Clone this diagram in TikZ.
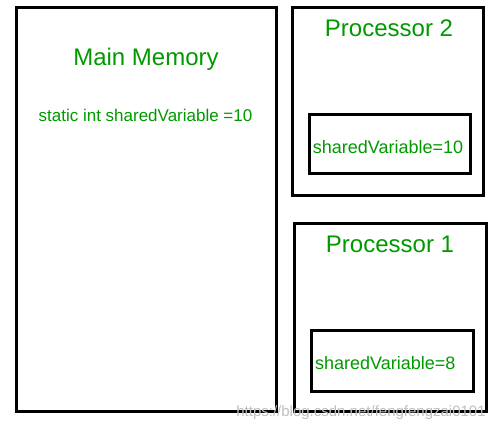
\documentclass[tikz,border=0pt]{standalone}
\usepackage{fontspec}
\setmainfont{Liberation Sans}
\usetikzlibrary{positioning}
\definecolor{memgreen}{RGB}{0,153,0}

\begin{document}
\begin{tikzpicture}[x=1pt,y=-1pt,
  box/.style={draw,line width=3pt,inner sep=0pt},
  title/.style={text=memgreen,inner sep=0pt,anchor=base,font=\fontsize{24}{28}\selectfont},
  var/.style={text=memgreen,inner sep=0pt,anchor=base,font=\fontsize{18}{21}\selectfont}]
\useasboundingbox (0,0) rectangle (502,429);

% main memory
\node[box,minimum width=260pt,minimum height=404pt] (mem) at (146.5,209.5) {};
\node[title] (memtitle) at (146,65) {Main Memory};
\node[var,font=\fontsize{17}{20}\selectfont] (memvar) at (145.5,121.5) {static int sharedVariable =10};

% processor 2
\node[box,minimum width=191pt,minimum height=188pt] (cpu2) at (388,101.5) {};
\node[title] (cpu2title) at (389,36) {Processor 2};
\node[box,minimum width=161pt,minimum height=59pt] (cache2) at (390,144) {};
\node[var] (var2) at (388,153) {sharedVariable=10};

% processor 1
\node[box,minimum width=192pt,minimum height=188pt] (cpu1) at (390.5,317.5) {};
\node[title] (cpu1title) at (390,252) {Processor 1};
\node[box,minimum width=161.5pt,minimum height=61pt] (cache1) at (392.25,361) {};
\node[var,anchor=base west] (var1) at (315,369) {sharedVariable=8};

% watermark
\node[text=black!25,inner sep=0pt,anchor=base,font=\fontsize{15}{18}\selectfont] (mark) at (361,416) {https://blog.csdn.net/fengfengzai0101};

\end{tikzpicture}
\end{document}
